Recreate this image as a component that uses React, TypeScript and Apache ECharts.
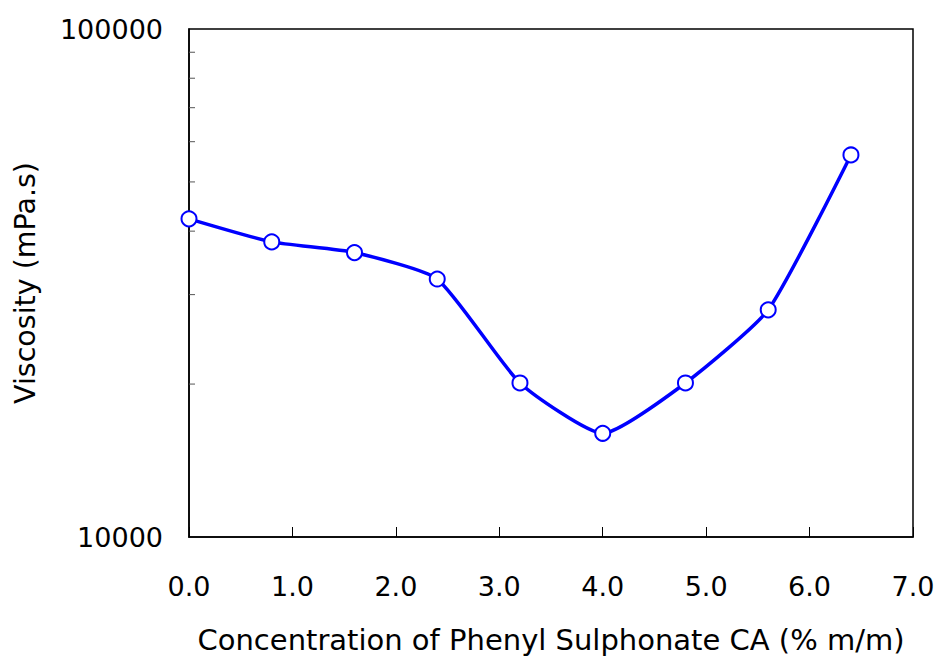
import React, { useEffect, useRef } from "react";
import * as echarts from "echarts";

// Phenyl sulphonate CA concentration (% m/m) and measured viscosity (mPa.s)
const concentration = [0.0, 0.8, 1.6, 2.4, 3.2, 4.0, 4.8, 5.6, 6.4];
const viscosity = [42300, 38100, 36300, 32200, 20100, 16000, 20100, 28000, 56500];
const xTicks = [0, 1, 2, 3, 4, 5, 6, 7];
const yMinorTicks = [20000, 30000, 40000, 50000, 60000, 70000, 80000, 90000];

const FONT = "DejaVu Sans";

export default function App() {
  const ref = useRef<HTMLDivElement>(null);

  useEffect(() => {
    if (!ref.current) return;
    const chart = echarts.init(ref.current, null, { renderer: "svg" });
    chart.setOption({
      animation: false,
      backgroundColor: "#fff",
      grid: {
        left: 189,
        right: 26,
        top: 29,
        bottom: 124,
        outerBoundsMode: "none",
        containLabel: false,
        show: true,
        borderColor: "#000",
        borderWidth: 1.5,
      },
      xAxis: {
        type: "value",
        min: xTicks[0],
        max: xTicks[xTicks.length - 1],
        interval: 1,
        name: "Concentration of Phenyl Sulphonate CA (% m/m)",
        nameLocation: "middle",
        nameGap: 88,
        nameTextStyle: { fontFamily: FONT, fontSize: 29, color: "#000" },
        axisLine: { show: true, lineStyle: { color: "#000", width: 1.5 } },
        axisTick: { show: true, inside: true, length: 10, lineStyle: { color: "#000", width: 1 } },
        axisLabel: {
          fontFamily: FONT,
          fontSize: 27,
          color: "#000",
          margin: 36,
          hideOverlap: false,
          formatter: (v: number) => v.toFixed(1),
        },
        splitLine: { show: false },
      },
      yAxis: {
        type: "log",
        logBase: 10,
        min: 10000,
        max: 100000,
        name: "Viscosity (mPa.s)",
        nameLocation: "middle",
        nameGap: 149,
        nameRotate: 90,
        nameTextStyle: { fontFamily: FONT, fontSize: 28.5, color: "#000" },
        axisLine: { show: true, lineStyle: { color: "#000", width: 1.5 } },
        axisTick: { show: false },
        axisLabel: {
          fontFamily: FONT,
          fontSize: 27,
          color: "#000",
          margin: 26,
          formatter: (v: number) => String(Math.round(v)),
        },
        splitLine: { show: false },
      },
      series: [
        {
          // minor ticks of the logarithmic axis (2x..9x per decade)
          type: "custom",
          silent: true,
          data: yMinorTicks.map((v) => [0, v]),
          renderItem: (params: any, api: any) => {
            const p = api.coord([0, api.value(1)]);
            return {
              type: "line",
              shape: { x1: p[0], y1: p[1], x2: p[0] + 6, y2: p[1] },
              style: { stroke: "#555", lineWidth: 1 },
            };
          },
          z: 1,
        },
        {
          type: "line",
          data: concentration.map((x, i) => [x, viscosity[i]]),
          smooth: 0.18,
          symbol: "circle",
          symbolSize: 15,
          lineStyle: { color: "#0000FF", width: 3.5 },
          itemStyle: { color: "#fff", borderColor: "#0000FF", borderWidth: 2 },
          z: 3,
        },
      ],
    });
    return () => chart.dispose();
  }, []);

  return (
    <div
      ref={ref}
      style={{ position: "absolute", left: 0, top: 0, width: 939, height: 661 }}
    />
  );
}
